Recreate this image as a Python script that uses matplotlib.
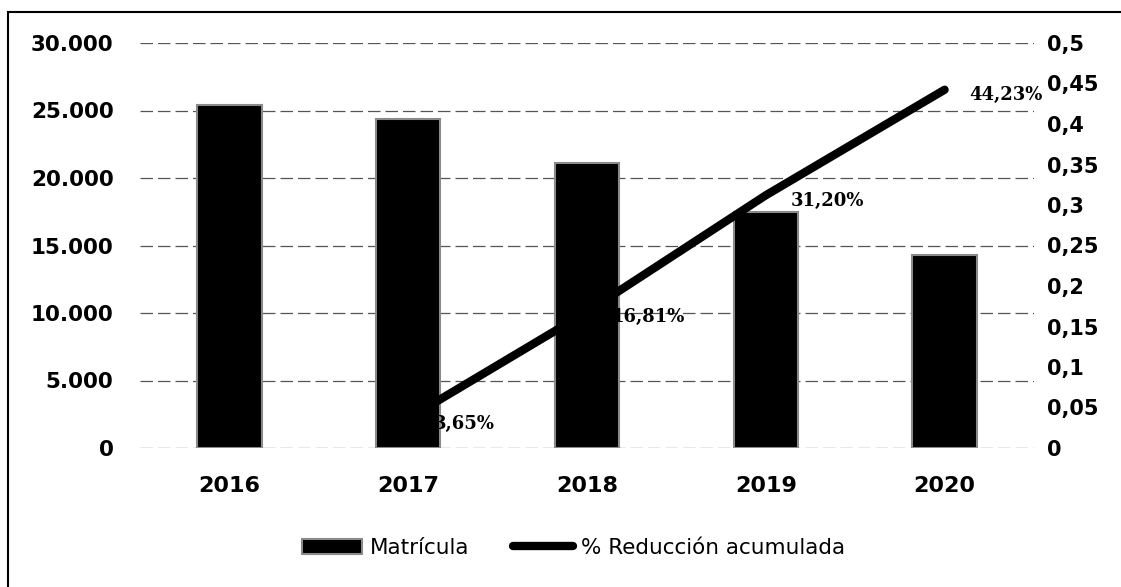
import matplotlib
matplotlib.use('Agg')
import matplotlib.pyplot as plt
from matplotlib.patches import Rectangle
import numpy as np

# data
years = ['2016', '2017', '2018', '2019', '2020']
matricula = [25400, 24400, 21100, 17500, 14300]
reduccion = [None, 0.0365, 0.1681, 0.3120, 0.4423]
reduccion_lbl = ['', '3,65%', '16,81%', '31,20%', '44,23%']
left_ticks = [0, 5000, 10000, 15000, 20000, 25000, 30000]
left_tick_lbl = ['0', '5.000', '10.000', '15.000', '20.000', '25.000', '30.000']
right_ticks = [0, 0.05, 0.1, 0.15, 0.2, 0.25, 0.3, 0.35, 0.4, 0.45, 0.5]
right_tick_lbl = ['0', '0,05', '0,1', '0,15', '0,2', '0,25', '0,3', '0,35', '0,4', '0,45', '0,5']

W, H = 1121, 587
fig = plt.figure(figsize=(W / 100, H / 100), dpi=100)
ax = fig.add_axes([140 / W, 1 - 448 / H, (1034 - 140) / W, (448 - 43) / H])
ax2 = ax.twinx()

x = np.arange(len(years))
ax.bar(x, matricula, width=0.36, color='black', edgecolor='#8a8a8a', linewidth=1.5,
       label='Matrícula', zorder=3)
ax.set_ylim(0, 30000)
ax.set_xlim(-0.5, len(years) - 0.5)
ax.set_yticks(left_ticks)
ax.set_yticklabels(left_tick_lbl, fontsize=15.5, fontweight='bold')
ax.set_xticks(x)
ax.set_xticklabels(years, fontsize=16, fontweight='bold')
ax.tick_params(axis='y', length=0, pad=19)
ax.tick_params(axis='x', length=0, pad=20)
for t in left_ticks:
    ax.axhline(t, color='#555555', linewidth=0.9, linestyle=(0, (10, 4)), zorder=1)
for s in ax.spines.values():
    s.set_visible(False)

lx = [i for i, v in enumerate(reduccion) if v is not None]
ly = [v for v in reduccion if v is not None]
ax2.plot(lx, ly, color='black', linewidth=6, solid_capstyle='round',
         label='% Reducción acumulada', zorder=4)
ax2.set_ylim(0, 0.5)
ax2.set_yticks(right_ticks)
ax2.set_yticklabels(right_tick_lbl, fontsize=15, fontweight='bold')
ax2.tick_params(axis='y', length=0, pad=9)
for s in ax2.spines.values():
    s.set_visible(False)
for i, v in enumerate(reduccion):
    if v is None:
        continue
    ax2.annotate(reduccion_lbl[i], (i, v), xytext=(18, -4), textcoords='offset points',
                 fontsize=13, fontweight='bold', family='DejaVu Serif',
                 ha='left', va='center', zorder=5)

h1, l1 = ax.get_legend_handles_labels()
h2, l2 = ax2.get_legend_handles_labels()
leg = fig.legend(h1 + h2, l1 + l2, loc='center', bbox_to_anchor=(573.5 / W, 1 - 548 / H),
                 ncol=2, frameon=False, handlelength=2.8, columnspacing=2.0,
                 handletextpad=0.36, prop={'family': 'DejaVu Sans', 'size': 15.5})

# outer frame
fig.patches.append(Rectangle((8 / W, -0.05), 1.1, 1 - 12 / H + 0.05, transform=fig.transFigure,
                             fill=False, edgecolor='black', linewidth=1.5))

fig.savefig('out.png', dpi=100, facecolor='white')
